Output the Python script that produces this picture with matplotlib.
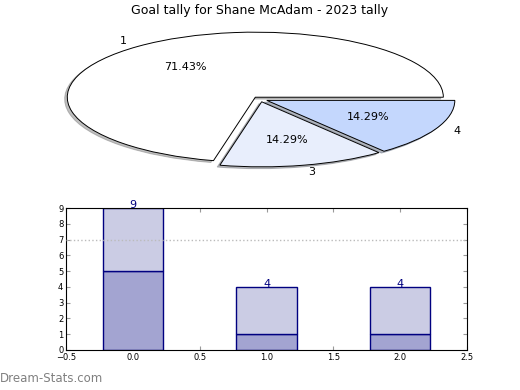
import matplotlib
matplotlib.use("Agg")
import matplotlib.pyplot as plt

pie_labels = ['1', '3', '4']
pie_values = [5, 1, 1]
pie_colors = ['#ffffff', '#e8eefc', '#c4d7fd']

bar_x = [0, 1, 2]
bar_bottom = [5, 1, 1]
bar_top = [4, 3, 3]
bar_totals = [9, 4, 4]
ref_line = 7

fig = plt.figure(figsize=(5.2, 3.9), dpi=100)
fig.text(0.5, 0.99, 'Goal tally for Shane McAdam - 2023 tally', ha='center', va='top', fontsize=9)

ax1 = fig.add_axes([0.048, 0.537, 0.904, 0.417])
ax1.pie(pie_values, labels=pie_labels, colors=pie_colors, explode=[0.04] * 3,
        autopct='%.2f%%', shadow={'ox': -0.01, 'oy': -0.02, 'shade': 0.5}, startangle=0,
        wedgeprops=dict(edgecolor='black', linewidth=0.7),
        textprops=dict(fontsize=8))
ax1.set_aspect('auto')
ax1.set_xlim(-1.25, 1.25)
ax1.set_ylim(-1.25, 1.25)

ax2 = fig.add_axes([0.127, 0.1026, 0.771, 0.364])
ax2.bar(bar_x, bar_bottom, width=0.45, color='#a3a4d1', edgecolor='#000080', linewidth=1, zorder=2)
ax2.bar(bar_x, bar_top, width=0.45, bottom=bar_bottom, color='#cbcce4', edgecolor='#000080', linewidth=1, zorder=2)
for x, t in zip(bar_x, bar_totals):
    ax2.text(x, t, str(t), ha='center', va='baseline', fontsize=8, color='#000080', zorder=4)
ax2.axhline(ref_line, color='#bbbbbb', linestyle=':', linewidth=1, zorder=3)
ax2.set_xlim(-0.5, 2.5)
ax2.set_ylim(0, 9)
ax2.set_yticks(range(0, 10))
ax2.set_xticks([-0.5, 0.0, 0.5, 1.0, 1.5, 2.0, 2.5])
ax2.tick_params(direction='in', labelsize=6, top=True, right=True, length=3, color='#999999', pad=2)

fig.text(0.0, 0.012, 'Dream-Stats.com', ha='left', va='bottom', fontsize=8.5, color='#808080')

fig.savefig('out.png', dpi=100)
